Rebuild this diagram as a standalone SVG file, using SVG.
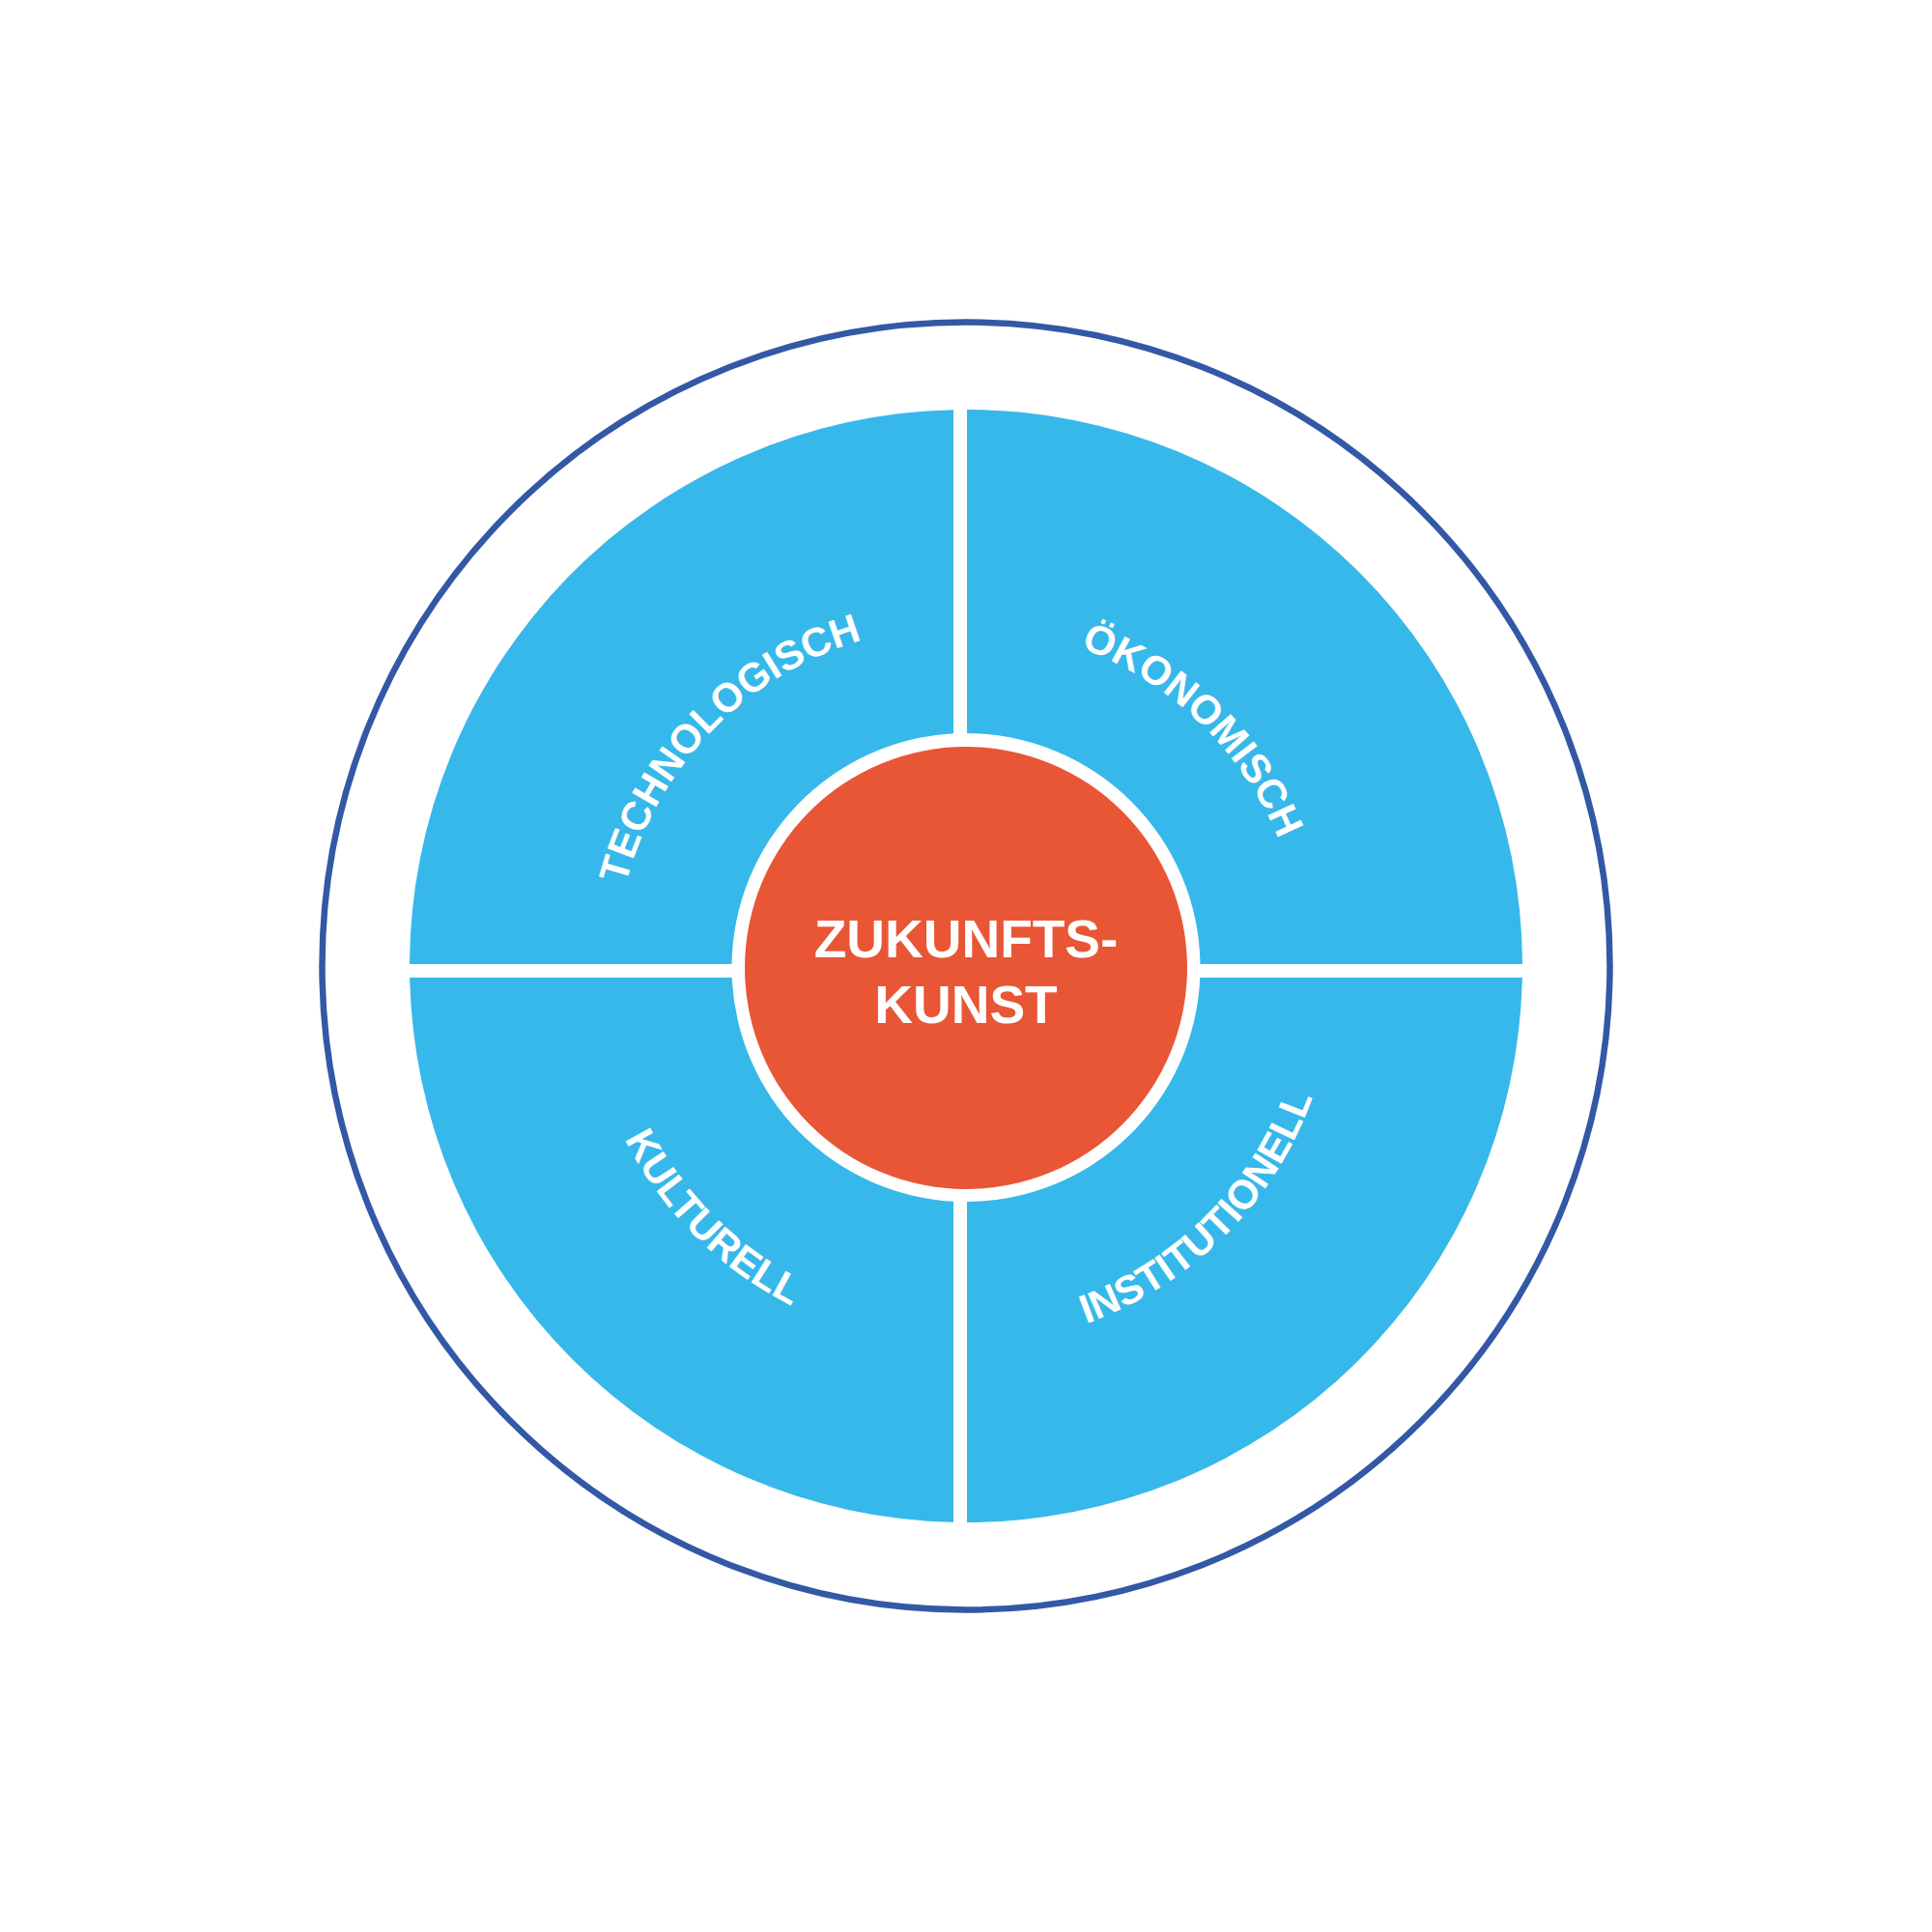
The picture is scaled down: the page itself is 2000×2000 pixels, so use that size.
<svg xmlns="http://www.w3.org/2000/svg" width="2000" height="2000" viewBox="0 0 2000 2000">
<style>
.quad{fill:#37B8EA;}
.lbl{font-family:"Liberation Sans",Arial,sans-serif;font-weight:bold;font-size:42px;fill:#FFFFFF;}
.core{font-family:"Liberation Sans",Arial,sans-serif;font-weight:bold;font-size:55px;fill:#FFFFFF;text-anchor:middle;}
</style>
<defs>
<path id="pTech" d="M741.06,1257.44 A357,357 0 0 1 1245.94,752.56"/>
<path id="pOeko" d="M741.06,752.56 A357,357 0 0 1 1245.94,1257.44"/>
<path id="pKult" d="M719.14,730.64 A388,388 0 0 0 1267.86,1279.36"/>
<path id="pInst" d="M719.14,1279.36 A388,388 0 0 0 1267.86,730.64"/>
</defs>
<rect width="2000" height="2000" fill="#FFFFFF"/>
<g id="outer-ring">
<circle cx="1000" cy="1000" r="666.5" fill="none" stroke="#3358A6" stroke-width="6.5"/>
</g>
<g id="technologisch">
<path class="quad" d="M987,424.147 L987,759.349 A242.5,242.5 0 0 0 757.525,998 L424.003,998 A576,576 0 0 1 987,424.147 Z"/>
<text class="lbl"><textPath href="#pTech" startOffset="554.5" text-anchor="middle">TECHNOLOGISCH</textPath></text>
</g>
<g id="oekonomisch">
<path class="quad" d="M1001,424.001 A576,576 0 0 1 1575.997,998 L1242.475,998 A242.5,242.5 0 0 0 1001,759.002 Z"/>
<text class="lbl"><textPath href="#pOeko" startOffset="554.5" text-anchor="middle">ÖKONOMISCH</textPath></text>
</g>
<g id="kulturell">
<path class="quad" d="M424.125,1012 L757.727,1012 A242.5,242.5 0 0 0 987,1243.651 L987,1575.853 A576,576 0 0 1 424.125,1012 Z"/>
<text class="lbl"><textPath href="#pKult" startOffset="50%" text-anchor="middle">KULTURELL</textPath></text>
</g>
<g id="institutionell">
<path class="quad" d="M1242.273,1012 L1575.875,1012 A576,576 0 0 1 1001,1575.999 L1001,1243.998 A242.5,242.5 0 0 0 1242.273,1012 Z"/>
<text class="lbl"><textPath href="#pInst" startOffset="50%" text-anchor="middle">INSTITUTIONELL</textPath></text>
</g>
<g id="zukunftskunst">
<circle cx="1000" cy="1002" r="229" fill="#E95635"/>
<text class="core" x="1000" y="990.7">ZUKUNFTS-</text>
<text class="core" x="1000" y="1059">KUNST</text>
</g>
</svg>
